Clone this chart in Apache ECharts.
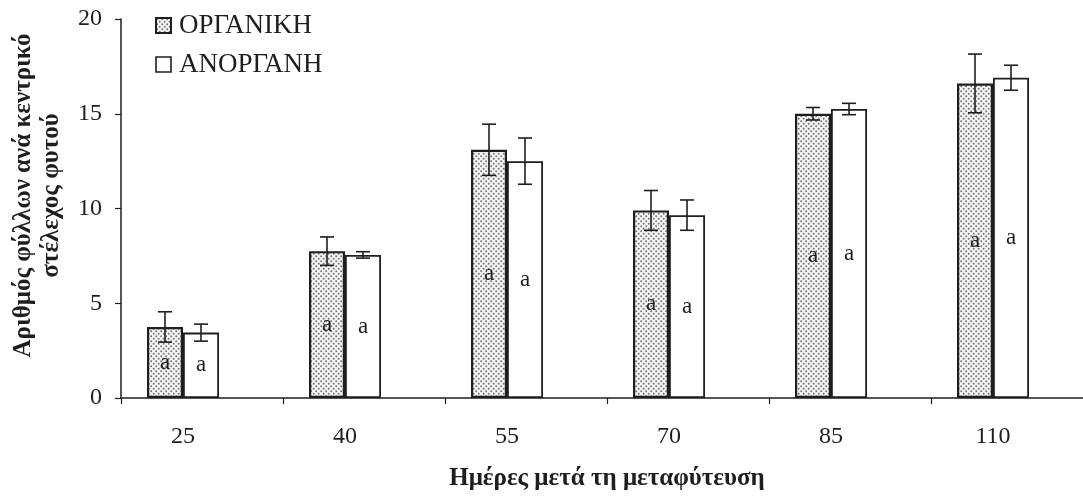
<!DOCTYPE html>
<html>
<head>
<meta charset="utf-8">
<script src="https://cdn.jsdelivr.net/npm/echarts@6/dist/echarts.min.js"></script>
<style>
  html, body { margin: 0; padding: 0; background: #ffffff; }
  #chart { width: 1083px; height: 496px; }
</style>
</head>
<body>
<div id="chart"></div>
<script>
// Days after transplanting
const days = ['25', '40', '55', '70', '85', '110'];
// Leaves per main stem – organic fertilisation (mean, ± error)
const organic = [3.75, 7.75, 13.1, 9.9, 15.0, 16.6];
const organicErr = [0.8, 0.75, 1.35, 1.05, 0.33, 1.55];
// Leaves per main stem – inorganic fertilisation (mean, ± error)
const inorganic = [3.45, 7.55, 12.5, 9.65, 15.25, 16.9];
const inorganicErr = [0.45, 0.17, 1.22, 0.8, 0.3, 0.66];
// Significance letters
const organicLetters = ['a', 'a', 'a', 'a', 'a', 'a'];
const inorganicLetters = ['a', 'a', 'a', 'a', 'a', 'a'];
// Y axis ticks
const yTicks = [0, 5, 10, 15, 20];

const SERIF = '"Liberation Serif", "DejaVu Serif", serif';
const INK = '#1e1e1e';
const BAR_W = 36;

// Stippled fill for the organic bars
function dotTile() {
  const c = document.createElement('canvas');
  c.width = 5; c.height = 5;
  const g = c.getContext('2d');
  g.fillStyle = '#f4f4f4';
  g.fillRect(0, 0, 5, 5);
  g.fillStyle = '#707070';
  g.beginPath(); g.arc(1.2, 1.2, 0.95, 0, Math.PI * 2); g.fill();
  g.beginPath(); g.arc(3.7, 3.7, 0.95, 0, Math.PI * 2); g.fill();
  return c;
}
const dotFill = { image: dotTile(), repeat: 'repeat' };

// Error bars drawn on top of each bar, shifted to the bar's slot
function errorBars(means, errs, shift) {
  return {
    type: 'custom',
    xAxisIndex: 0,
    yAxisIndex: 0,
    z: 10,
    silent: true,
    data: means.map((m, i) => [i, m - errs[i], m + errs[i]]),
    renderItem: function (params, api) {
      const lo = api.coord([api.value(0), api.value(1)]);
      const hi = api.coord([api.value(0), api.value(2)]);
      const x = lo[0] + shift;
      const cap = 7;
      const st = { stroke: INK, lineWidth: 1.6 };
      return {
        type: 'group',
        children: [
          { type: 'line', shape: { x1: x, y1: lo[1], x2: x, y2: hi[1] }, style: st },
          { type: 'line', shape: { x1: x - cap, y1: hi[1], x2: x + cap, y2: hi[1] }, style: st },
          { type: 'line', shape: { x1: x - cap, y1: lo[1], x2: x + cap, y2: lo[1] }, style: st }
        ]
      };
    }
  };
}

const chart = echarts.init(document.getElementById('chart'), null, { renderer: 'canvas' });

chart.setOption({
  animation: false,
  backgroundColor: '#ffffff',
  textStyle: { fontFamily: SERIF, color: INK },
  grid: [
    { left: 102, width: 972, top: 19, bottom: 98, outerBoundsMode: 'none', containLabel: false },
    { left: 121, width: 972, top: 19, bottom: 98, outerBoundsMode: 'none', containLabel: false }
  ],
  legend: {
    orient: 'vertical',
    left: 150,
    top: 7,
    itemGap: 12,
    itemWidth: 15,
    itemHeight: 15,
    icon: 'rect',
    textStyle: { fontFamily: SERIF, fontSize: 27, color: INK, padding: [0, 0, 0, 3] },
    data: [
      { name: 'ΟΡΓΑΝΙΚΗ', itemStyle: { color: dotFill, borderColor: INK, borderWidth: 2 } },
      { name: 'ΑΝΟΡΓΑΝΗ', itemStyle: { color: '#ffffff', borderColor: INK, borderWidth: 1.6 } }
    ]
  },
  xAxis: [
    {
      type: 'category',
      gridIndex: 0,
      data: days,
      axisLine: { show: false },
      axisTick: { show: false },
      axisLabel: { fontFamily: SERIF, fontSize: 24, color: INK, margin: 27 }
    },
    {
      type: 'category',
      gridIndex: 1,
      data: days,
      boundaryGap: true,
      axisLine: { show: true, lineStyle: { color: INK, width: 1.5 } },
      axisTick: { show: true, length: 6, lineStyle: { color: INK, width: 1.2 } },
      axisLabel: { show: false },
      name: 'Ημέρες μετά τη μεταφύτευση',
      nameLocation: 'middle',
      nameGap: 68,
      nameTextStyle: { fontFamily: SERIF, fontSize: 25, fontWeight: 'bold', color: INK }
    }
  ],
  yAxis: [
    {
      type: 'value',
      gridIndex: 0,
      min: yTicks[0],
      max: yTicks[yTicks.length - 1],
      interval: 5,
      offset: -19,
      splitLine: { show: false },
      axisLine: { show: true, lineStyle: { color: INK, width: 1.5 } },
      axisTick: { show: true, length: 6, lineStyle: { color: INK, width: 1.2 } },
      axisLabel: { fontFamily: SERIF, fontSize: 24, color: INK, margin: 19 },
      name: 'Αριθμός φύλλων ανά κεντρικό\nστέλεχος φυτού',
      nameLocation: 'middle',
      nameGap: 55,
      nameRotate: 90,
      nameTextStyle: {
        fontFamily: SERIF, fontSize: 25, fontWeight: 'bold', color: INK,
        lineHeight: 28, align: 'center', padding: [0, 0, 0, 26]
      }
    },
    {
      type: 'value',
      gridIndex: 1,
      min: 0,
      max: 20,
      interval: 5,
      show: false
    }
  ],
  series: [
    {
      name: 'ΟΡΓΑΝΙΚΗ',
      type: 'bar',
      xAxisIndex: 0,
      yAxisIndex: 0,
      barWidth: BAR_W,
      barGap: '0%',
      data: organic,
      itemStyle: { color: dotFill, borderColor: INK, borderWidth: 2.2 },
      label: {
        show: true,
        position: 'inside',
        formatter: p => organicLetters[p.dataIndex],
        fontFamily: SERIF,
        fontSize: 23,
        color: INK
      }
    },
    {
      name: 'ΑΝΟΡΓΑΝΗ',
      type: 'bar',
      xAxisIndex: 0,
      yAxisIndex: 0,
      barWidth: BAR_W,
      barGap: '0%',
      data: inorganic,
      itemStyle: { color: '#ffffff', borderColor: INK, borderWidth: 1.8 },
      label: {
        show: true,
        position: 'inside',
        formatter: p => inorganicLetters[p.dataIndex],
        fontFamily: SERIF,
        fontSize: 23,
        color: INK
      }
    },
    errorBars(organic, organicErr, -BAR_W / 2),
    errorBars(inorganic, inorganicErr, BAR_W / 2)
  ]
});
</script>
</body>
</html>
